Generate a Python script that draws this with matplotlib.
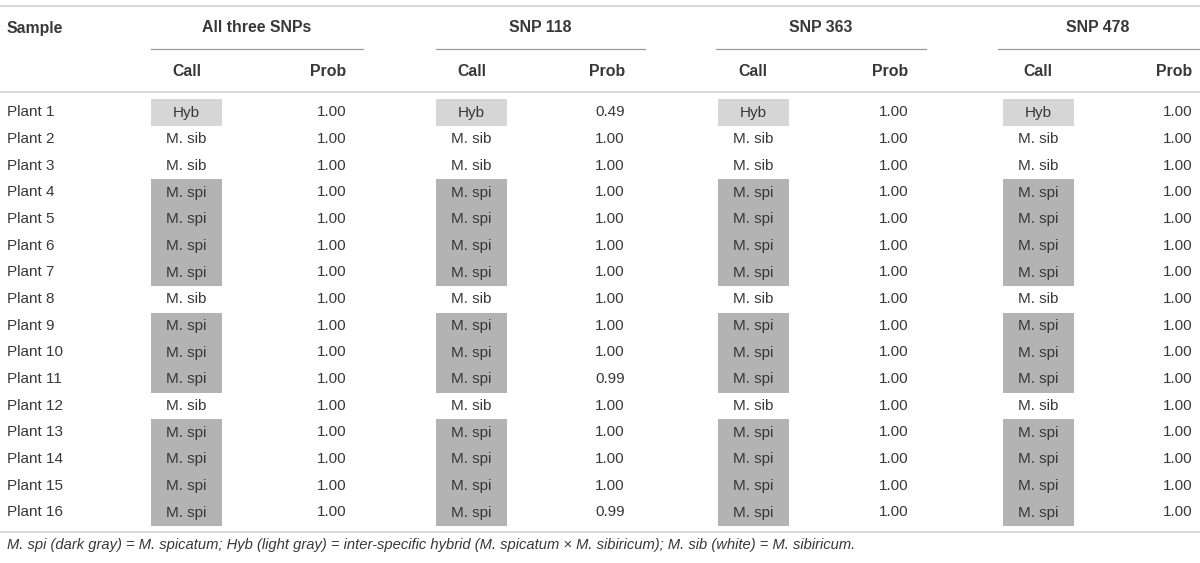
import matplotlib
matplotlib.use('Agg')
import matplotlib.pyplot as plt
from matplotlib.patches import Rectangle

plt.rcParams['font.family'] = ['Liberation Sans', 'DejaVu Sans']

# table contents
samples = ['Plant %d' % i for i in range(1, 17)]
groups = ['All three SNPs', 'SNP 118', 'SNP 363', 'SNP 478']
calls_all = ['Hyb', 'M. sib', 'M. sib', 'M. spi', 'M. spi', 'M. spi', 'M. spi', 'M. sib',
             'M. spi', 'M. spi', 'M. spi', 'M. sib', 'M. spi', 'M. spi', 'M. spi', 'M. spi']
calls_118 = list(calls_all)
calls_363 = list(calls_all)
calls_478 = list(calls_all)
prob_all = [1.00] * 16
prob_118 = [0.49, 1.00, 1.00, 1.00, 1.00, 1.00, 1.00, 1.00,
            1.00, 1.00, 0.99, 1.00, 1.00, 1.00, 1.00, 0.99]
prob_363 = [1.00] * 16
prob_478 = [1.00] * 16
calls = [calls_all, calls_118, calls_363, calls_478]
probs = [prob_all, prob_118, prob_363, prob_478]
footnote = ('M. spi (dark gray) = M. spicatum; Hyb (light gray) = inter-specific hybrid '
            '(M. spicatum \u00d7 M. sibiricum); M. sib (white) = M. sibiricum.')

# layout (pixels)
W, H = 1200, 563
call_x = [186.5, 471.5, 753, 1038]
prob_x = [346, 625, 908, 1192]
grp_span = [(151, 363), (436, 645), (716, 926), (998, 1200)]
row0, dy = 112.5, 400 / 15.
box_w = 71
fills = {'M. spi': '#b3b3b3', 'Hyb': '#d6d6d6'}
txt = '#383838'
line_c = '#d9d9d9'
fs = 11
hfs = 11.4

fig = plt.figure(figsize=(W / 100., H / 100.), dpi=100)
ax = fig.add_axes([0, 0, 1, 1])
ax.set_xlim(0, W)
ax.set_ylim(H, 0)
ax.axis('off')

# rules
for y in (6, 92, 532):
	ax.plot([0, W], [y, y], color=line_c, lw=1.5, solid_capstyle='butt')
for (a, b) in grp_span:
	ax.plot([a, b], [49, 49], color='#9a9a9a', lw=0.9)

# header
ax.text(7, 28, 'Sample', ha='left', va='center', fontsize=hfs, weight='bold', color=txt)
for g, (a, b) in enumerate(grp_span):
	cx = (a + b) / 2. if g < 3 else 1098
	ax.text(cx, 28, groups[g], ha='center', va='center', fontsize=hfs, weight='bold', color=txt)
	ax.text(call_x[g], 72, 'Call', ha='center', va='center', fontsize=hfs, weight='bold', color=txt)
	ax.text(prob_x[g], 72, 'Prob', ha='right', va='center', fontsize=hfs, weight='bold', color=txt)

# body
for i, s in enumerate(samples):
	y = row0 + i * dy
	ax.text(7, y, s, ha='left', va='center', fontsize=fs, color=txt)
	for g in range(4):
		c = calls[g][i]
		if c in fills:
			ax.add_patch(Rectangle((call_x[g] - box_w / 2., y - dy / 2.), box_w, dy,
			                       facecolor=fills[c], edgecolor='none', zorder=0))
		ax.text(call_x[g], y, c, ha='center', va='center', fontsize=fs, color=txt)
		ax.text(prob_x[g], y, '%.2f' % probs[g][i], ha='right', va='center', fontsize=fs, color=txt)

ax.text(7, 545, footnote, ha='left', va='center', fontsize=fs - 0.4, style='italic', color=txt)

plt.savefig('out.png', dpi=100)
